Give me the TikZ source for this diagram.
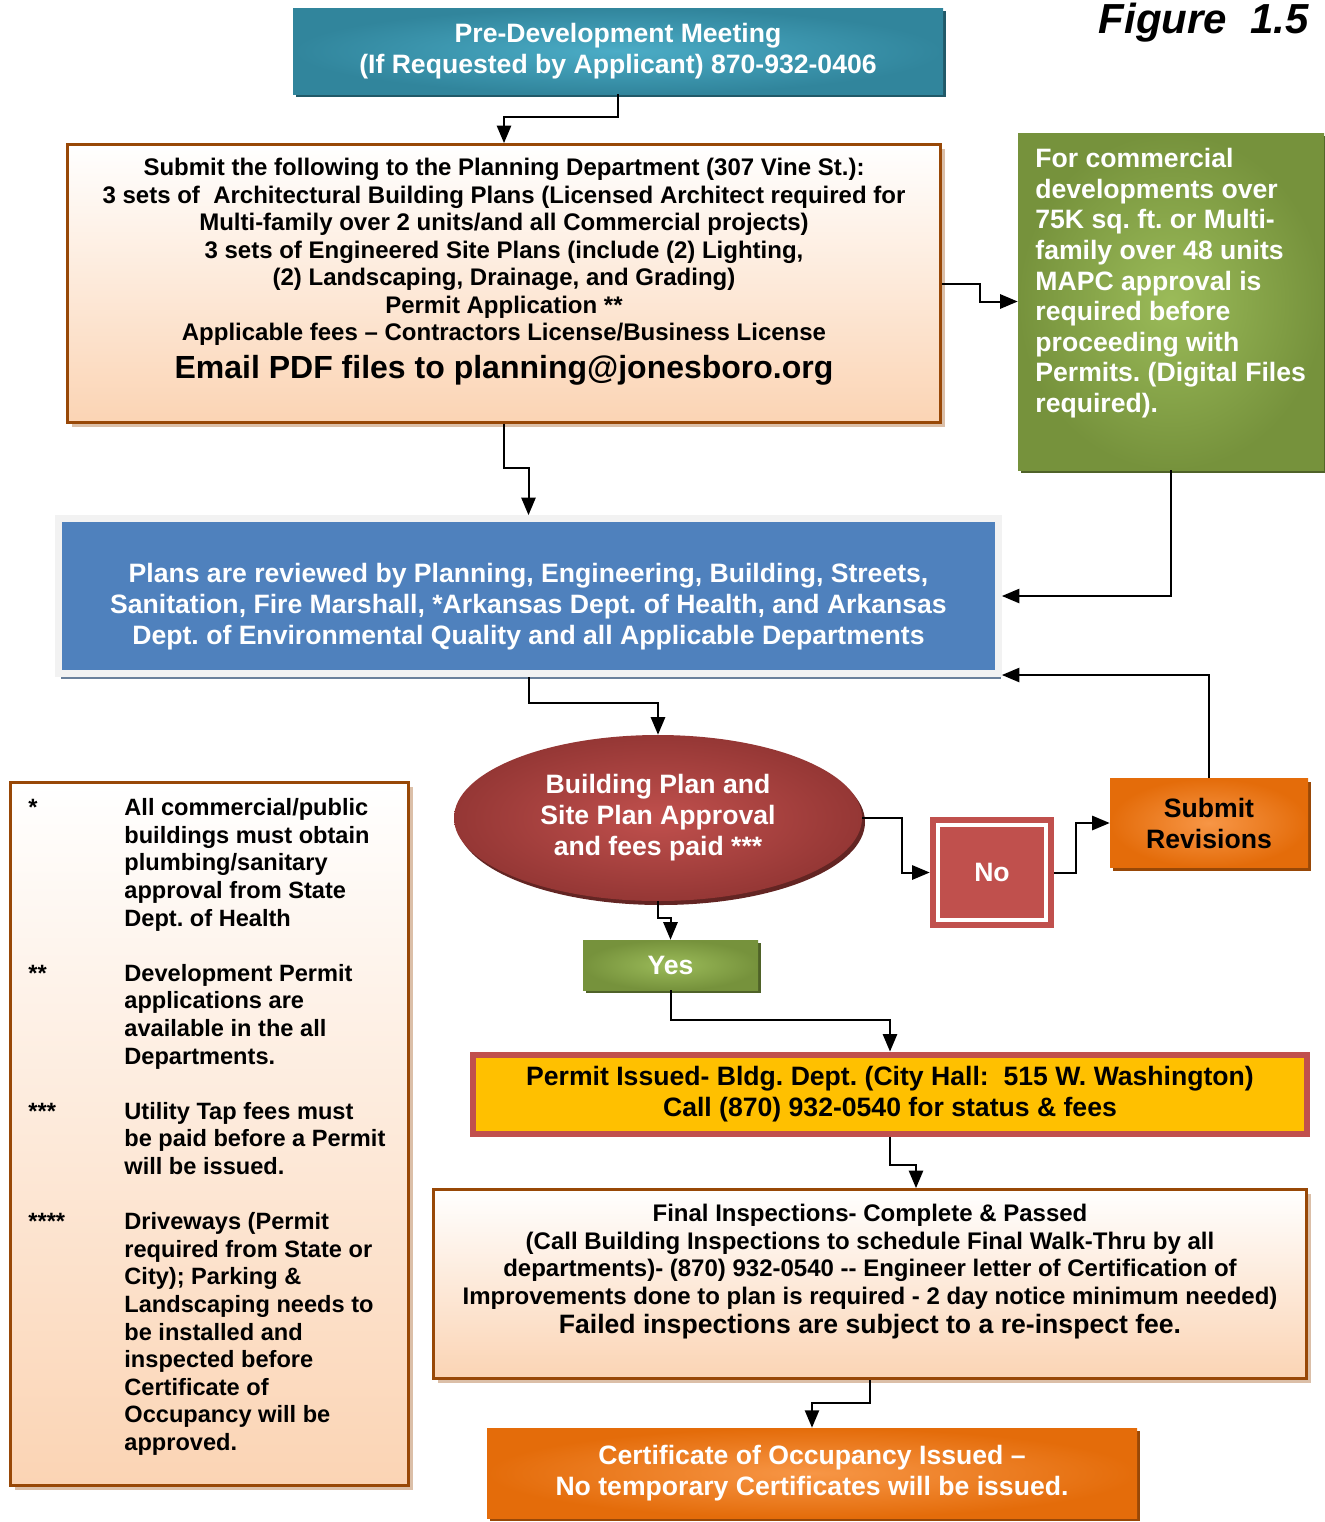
\documentclass[tikz,border=0pt]{standalone}
\usepackage{fontspec}
\setmainfont{Liberation Sans}
\usetikzlibrary{shapes.geometric, arrows, positioning, calc, shadows}
\frenchspacing

\definecolor{tealdark}{HTML}{31859C}
\definecolor{teallight}{HTML}{4BACC6}
\definecolor{tealshadow}{HTML}{215968}
\definecolor{peach}{HTML}{FBD4B4}
\definecolor{rust}{HTML}{984807}
\definecolor{olivedark}{HTML}{76923C}
\definecolor{olivelight}{HTML}{9BBB59}
\definecolor{oliveshadow}{HTML}{4F6228}
\definecolor{steel}{HTML}{4F81BD}
\definecolor{wine}{HTML}{953735}
\definecolor{winelight}{HTML}{C0504D}
\definecolor{wineshadow}{HTML}{632523}
\definecolor{pumpkin}{HTML}{E46C0A}
\definecolor{pumpkinlight}{HTML}{F79646}
\definecolor{amber}{HTML}{FFC000}

\begin{document}
\begin{tikzpicture}[x=0.5pt, y=-0.5pt,
  flow/.style={-triangle 45, line width=1pt},
  bigtext/.style={font=\fontsize{13.3}{15.5}\selectfont\bfseries, align=center},
  bodytext/.style={font=\fontsize{12}{13.75}\selectfont\bfseries, align=center, inner sep=0pt},
  tealbox/.style={rectangle, inner color=teallight, outer color=tealdark, text=white, bigtext,
    drop shadow={shadow xshift=1.5pt, shadow yshift=-1.5pt, fill=tealshadow, opacity=1}},
  peachbox/.style={rectangle, draw=rust, line width=1.5pt, top color=white, bottom color=peach,
    drop shadow={shadow xshift=2pt, shadow yshift=-2pt, fill=rust!35!white, opacity=1}},
  olivebox/.style={rectangle, inner color=olivelight, outer color=olivedark,
    drop shadow={shadow xshift=1.5pt, shadow yshift=-1.5pt, fill=oliveshadow, opacity=1}},
  orangebox/.style={rectangle, inner color=pumpkinlight, outer color=pumpkin, bigtext,
    drop shadow={shadow xshift=1.5pt, shadow yshift=-1.5pt, fill=rust, opacity=1}},
  reviewbox/.style={rectangle, fill=steel, draw=gray!10, line width=3.5pt,
    drop shadow={shadow xshift=1pt, shadow yshift=-2.5pt, fill=gray!55!steel, opacity=1}},
  decision/.style={ellipse, inner color=winelight, outer color=wine, text=white, bigtext, inner sep=0pt,
    drop shadow={shadow xshift=1.5pt, shadow yshift=-2pt, fill=wineshadow, opacity=1}},
  nobox/.style={rectangle, fill=winelight, text=white, bigtext,
    path picture={\draw[white, line width=1.8pt]
      ([shift={(4pt,4pt)}]path picture bounding box.south west) rectangle
      ([shift={(-4pt,-4pt)}]path picture bounding box.north east);}},
  permitbox/.style={rectangle, fill=amber, draw=winelight, line width=3pt,
    font=\fontsize{13.3}{15.5}\selectfont\bfseries, align=center}
]
\useasboundingbox (0,0) rectangle (1324,1522);

% Title
\node[anchor=east, font=\fontsize{21}{25}\selectfont\bfseries\itshape] (figtitle) at (1316,23) {Figure\ \ 1.5};

% Boxes
\node[tealbox, minimum width=325pt, minimum height=43pt] (premeet) at (618,51)
  {Pre-Development Meeting\\(If Requested by Applicant) 870-932-0406};

\node[peachbox, minimum width=436.5pt, minimum height=139pt] (submit) at (504,283.5) {};
\node[bodytext, anchor=north] (submittext) at (504,158)
  {Submit the following to the Planning Department (307 Vine St.):\\
   3 sets of\ \ Architectural Building Plans (Licensed Architect required for\\
   Multi-family over 2 units/and all Commercial projects)\\
   3 sets of Engineered Site Plans (include (2) Lighting,\\
   (2) Landscaping, Drainage, and Grading)\\
   Permit Application **\\
   Applicable fees -- Contractors License/Business License\\[4pt]
   {\fontsize{16}{19}\selectfont Email PDF files to planning@jonesboro.org}};

\node[olivebox, minimum width=153pt, minimum height=168.5pt] (mapc) at (1171,301.5) {};
\node[anchor=north west, inner sep=0pt, text=white, align=left,
  font=\fontsize{13.3}{15.3}\selectfont\bfseries] (mapctext) at (1035,148)
  {For commercial\\developments over\\75K sq. ft. or Multi-\\family over 48 units\\
   MAPC approval is\\required before\\proceeding with\\Permits. (Digital Files\\required).};

\node[reviewbox, minimum width=470pt, minimum height=77.5pt] (review) at (528.5,596) {};
\node[text=white, bigtext, inner sep=0pt] (reviewtext) at (528.5,607)
  {Plans are reviewed by Planning, Engineering, Building, Streets,\\
   Sanitation, Fire Marshall, *Arkansas Dept. of Health, and Arkansas\\
   Dept. of Environmental Quality and all Applicable Departments};

\node[decision, minimum width=204pt, minimum height=83pt] (approval) at (658,818)
  {Building Plan and\\Site Plan Approval\\and fees paid ***};

\node[nobox, minimum width=62pt, minimum height=55.5pt] (no) at (992,872.5) {No};

\node[orangebox, minimum width=99pt, minimum height=44.5pt] (revisions) at (1209,823)
  {Submit\\Revisions};

\node[olivebox, bigtext, text=white, minimum width=87.5pt, minimum height=25pt] (yes) at (670.5,965) {Yes};

\node[permitbox, minimum width=417pt, minimum height=39.5pt] (permit) at (890,1094)
  {Permit Issued- Bldg. Dept. (City Hall:\ \ 515 W. Washington)\\
   Call (870) 932-0540 for status \& fees};

\node[peachbox, minimum width=436.5pt, minimum height=94.5pt] (final) at (870,1284) {};
\node[bodytext, anchor=north, font=\fontsize{12}{13.75}\selectfont\bfseries] (finaltext) at (870,1204)
  {Final Inspections- Complete \& Passed\\
   (Call Building Inspections to schedule Final Walk-Thru by all\\
   departments)- (870) 932-0540 -{}- Engineer letter of Certification of\\
   Improvements done to plan is required - 2 day notice minimum needed)\\[1pt]
   {\fontsize{13.3}{15.5}\selectfont Failed inspections are subject to a re-inspect fee.}};

\node[orangebox, text=white, minimum width=325pt, minimum height=45pt] (cert) at (812,1473)
  {Certificate of Occupancy Issued --\\No temporary Certificates will be issued.};

% Notes
\node[peachbox, minimum width=199pt, minimum height=351.5pt] (notes) at (209.5,1134) {};
\node[anchor=north west, inner sep=0pt, font=\fontsize{11.8}{13.8}\selectfont\bfseries] (notestext) at (28,796)
  {\begin{tabular}{@{}p{48pt}@{}l@{}}
   {*} & All commercial/public\\
       & buildings must obtain\\
       & plumbing/sanitary\\
       & approval from State\\
       & Dept. of Health\\
       & \\
   {**} & Development Permit\\
        & applications are\\
        & available in the all\\
        & Departments.\\
        & \\
   {***} & Utility Tap fees must\\
         & be paid before a Permit\\
         & will be issued.\\
         & \\
   {****} & Driveways (Permit\\
          & required from State or\\
          & City); Parking \&\\
          & Landscaping needs to\\
          & be installed and\\
          & inspected before\\
          & Certificate of\\
          & Occupancy will be\\
          & approved.
   \end{tabular}};

% Connectors
\draw[flow] (premeet.south) -- ++(0,23) -| (submit.north);
\draw[flow] (submit.east) -- ++(38,0) |- (mapc.west);
\draw[flow] (submit.south) -- ++(0,44) -| (review.north);
\draw[flow] (mapc.south) |- (review.east);
\draw[flow] (review.south) -- ++(0,26) -| (approval.north);
\draw[flow] (approval.east) -- ++(40,0) |- (no.west);
\draw[flow] (no.east) -- ++(22,0) |- (revisions.west);
\draw[flow] (revisions.north) |- ([yshift=1pt]review.south east);
\draw[flow] (approval.south) -- ++(0,17) -| (yes.north);
\draw[flow] (yes.south) -- ++(0,30) -| (permit.north);
\draw[flow] (permit.south) -- ++(0,28) -| ([xshift=23pt]final.north);
\draw[flow] (final.south) -- ++(0,23) -| (cert.north);
\end{tikzpicture}
\end{document}
